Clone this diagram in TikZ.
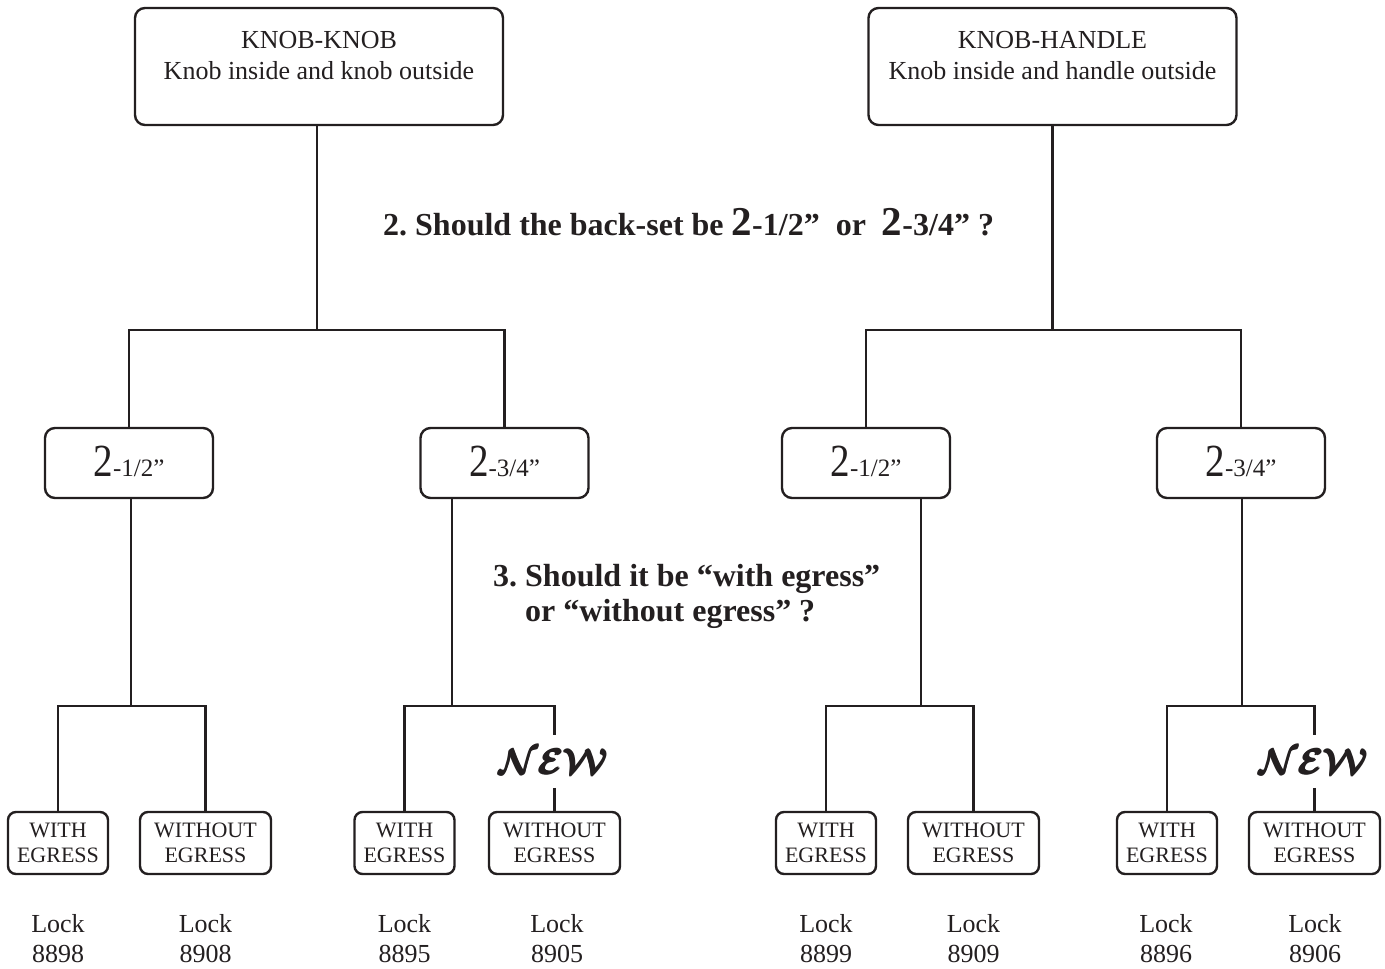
\documentclass[tikz,border=0pt]{standalone}
\usepackage{amsmath}
\usepackage{fontspec}
\setmainfont{Liberation Serif}
\usepackage{graphicx}
\definecolor{ink}{HTML}{231F20}
\frenchspacing
\tikzset{
  conn/.style={line width=2.2pt, draw=ink},
  topbox/.style={draw=ink, line width=2.4pt, rounded corners=10pt, minimum width=368pt, minimum height=117pt, inner sep=0pt},
  toptext/.style={align=center, text=ink, inner sep=0pt, font=\fontsize{26}{31}\selectfont},
  sizebox/.style={draw=ink, line width=2.4pt, rounded corners=10pt, minimum width=168pt, minimum height=70pt, inner sep=0pt, text=ink, text height=32pt, text depth=6pt},
  egbox/.style={draw=ink, line width=2.4pt, rounded corners=8pt, minimum height=62pt, inner sep=0pt, align=center, text=ink, font=\fontsize{22}{25}\selectfont},
  withbox/.style={egbox, minimum width=100pt},
  withoutbox/.style={egbox, minimum width=131pt},
  locklbl/.style={align=center, text=ink, inner sep=0pt, font=\fontsize{26}{30}\selectfont},
  question/.style={align=left, text=ink, inner sep=0pt, font=\fontsize{32}{35}\selectfont\bfseries},
  newlbl/.style={minimum height=52pt, inner sep=0pt, text=ink}
}
\newcommand{\bigtwo}{{\fontsize{46}{46}\selectfont\scalebox{0.85}[1]{2}}}
\newcommand{\qtwo}{{\fontsize{41}{41}\selectfont 2}}
\newcommand{\smallpart}[1]{{\fontsize{25}{25}\selectfont #1}}
\newcommand{\newmark}{\scalebox{3.6}{\boldmath$\pmb{\mathcal{NEW}}$}}
\begin{document}
\begin{tikzpicture}[x=1pt, y=-1pt]
\useasboundingbox (0,0) rectangle (1385,969);

% top boxes
\node[topbox] (kk) at (319,66.5) {};
\node[toptext] (kkt) at (319,56) {KNOB-KNOB\\Knob inside and knob outside};
\node[topbox] (kh) at (1052.5,66.5) {};
\node[toptext] (kht) at (1052.5,56) {KNOB-HANDLE\\Knob inside and handle outside};

% questions
\node[question, anchor=base west] (q2) at (383,235.5) {2. Should the back-set be \qtwo-1/2”\ \ or\ \ \qtwo-3/4” ?};
\node[question, anchor=base west] (q3) at (493,621) {3. Should it be “with egress”\\\hphantom{3. }or “without egress” ?};

% second level
\node[sizebox] (b1) at (129,463) {\bigtwo\smallpart{-1/2”}};
\node[sizebox] (b2) at (504.5,463) {\bigtwo\smallpart{-3/4”}};
\node[sizebox] (b3) at (866,463) {\bigtwo\smallpart{-1/2”}};
\node[sizebox] (b4) at (1241,463) {\bigtwo\smallpart{-3/4”}};

% third level
\node[withbox] (w1) at (58,843) {WITH\\EGRESS};
\node[withoutbox] (o1) at (205.5,843) {WITHOUT\\EGRESS};
\node[withbox] (w2) at (404.5,843) {WITH\\EGRESS};
\node[withoutbox] (o2) at (554.5,843) {WITHOUT\\EGRESS};
\node[withbox] (w3) at (826,843) {WITH\\EGRESS};
\node[withoutbox] (o3) at (973.5,843) {WITHOUT\\EGRESS};
\node[withbox] (w4) at (1167,843) {WITH\\EGRESS};
\node[withoutbox] (o4) at (1314.5,843) {WITHOUT\\EGRESS};

% NEW marks
\node[newlbl, anchor=south] (n2) at ([yshift=23pt]o2.north) {\newmark};
\node[newlbl, anchor=south] (n4) at ([yshift=23pt]o4.north) {\newmark};

% lock labels
\node[locklbl] (l1) at (58,939) {Lock\\8898};
\node[locklbl] (l2) at (205.5,939) {Lock\\8908};
\node[locklbl] (l3) at (404.5,939) {Lock\\8895};
\node[locklbl] (l4) at (557,939) {Lock\\8905};
\node[locklbl] (l5) at (826,939) {Lock\\8899};
\node[locklbl] (l6) at (973.5,939) {Lock\\8909};
\node[locklbl] (l7) at (1166,939) {Lock\\8896};
\node[locklbl] (l8) at (1315,939) {Lock\\8906};

% connectors: top to second level
\draw[conn] ([xshift=-2pt]kk.south) -- ++(0,204) coordinate (j1);
\draw[conn] (b1.north) |- (j1) -| (b2.north);
\draw[conn] (kh.south) -- ++(0,204) coordinate (j2);
\draw[conn] (b3.north) |- (j2) -| (b4.north);

% second to third level
\draw[conn] ([xshift=2pt]b1.south) -- ++(0,207) coordinate (j3);
\draw[conn] (w1.north) |- (j3) -| (o1.north);
\draw[conn] ([xshift=-52.5pt]b2.south) -- ++(0,207) coordinate (j4);
\draw[conn] (w2.north) |- (j4) -| (n2.north);
\draw[conn] (n2.south) -- (o2.north);
\draw[conn] ([xshift=55pt]b3.south) -- ++(0,207) coordinate (j5);
\draw[conn] (w3.north) |- (j5) -| (o3.north);
\draw[conn] ([xshift=1pt]b4.south) -- ++(0,207) coordinate (j6);
\draw[conn] (w4.north) |- (j6) -| (n4.north);
\draw[conn] (n4.south) -- (o4.north);
\end{tikzpicture}
\end{document}
